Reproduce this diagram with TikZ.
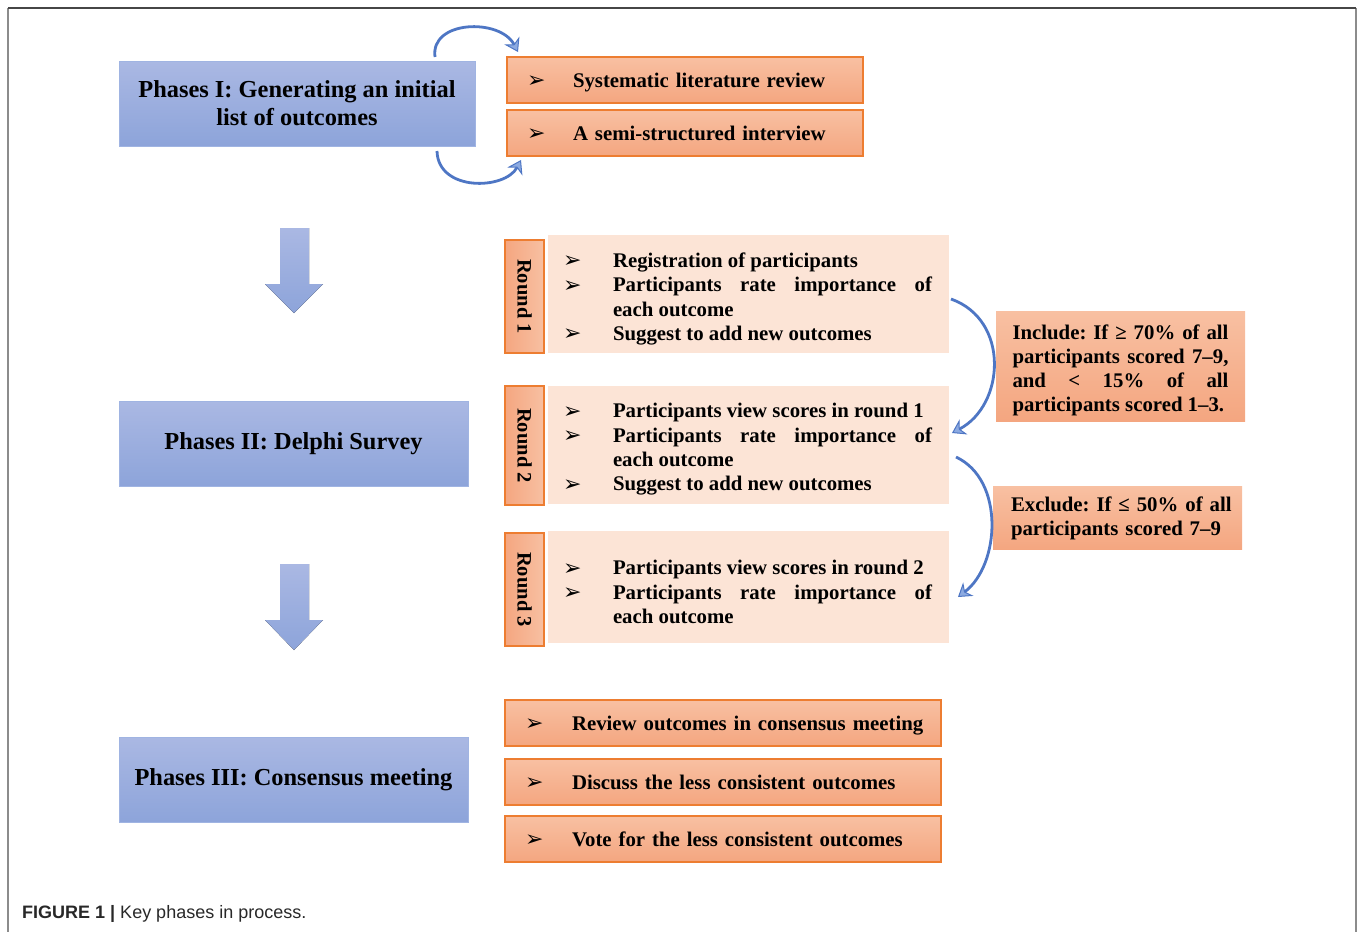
\documentclass[tikz,border=0pt]{standalone}
\usepackage{fontspec}
\setmainfont{Liberation Serif}
\newfontfamily\capfont{Liberation Sans}
\newfontfamily\symfont{DejaVu Sans}
\usetikzlibrary{arrows.meta}
\frenchspacing
\definecolor{bluetop}{RGB}{170,184,227}
\definecolor{bluebot}{RGB}{141,164,218}
\definecolor{blueedge}{RGB}{160,180,226}
\definecolor{ortop}{RGB}{248,192,162}
\definecolor{orbot}{RGB}{244,166,128}
\definecolor{oredge}{RGB}{237,125,49}
\definecolor{peach}{RGB}{252,228,214}
\definecolor{arrblue}{RGB}{78,118,196}
\definecolor{arrfill}{RGB}{140,170,225}
\definecolor{capcol}{RGB}{40,40,40}
\newcommand{\bul}{\smash{\raisebox{-0.5pt}{\symfont\fontsize{22}{22}\selectfont ➢}}}
\newcommand{\bitem}[2]{\par\noindent\hangindent=#1\hangafter=1\makebox[#1][l]{\hspace{-2pt}\bul}#2}
\newcommand{\jline}[1]{\par\noindent\hbox to \hsize{#1}\par}
\tikzset{
  phasebox/.style={draw=blueedge, line width=0.8pt, top color=bluetop, bottom color=bluebot,
    inner sep=0pt, align=center, font=\fontsize{24.4}{28}\selectfont\bfseries\frenchspacing},
  obox/.style={draw=oredge, line width=1.2pt, top color=ortop, bottom color=orbot,
    inner xsep=20pt, inner ysep=0pt, minimum height=46pt, align=left,
    text height=14pt, text depth=0pt,
    font=\fontsize{20.8}{24}\selectfont\bfseries},
  roundlbl/.style={draw=oredge, line width=1.2pt, left color=orbot, right color=ortop,
    rotate=-90, inner sep=0pt, minimum height=39pt, font=\fontsize{20.5}{24}\selectfont\bfseries},
  pbox/.style={fill=peach, text width=367pt, inner xsep=17pt, inner ysep=0pt, align=justify,
    font=\fontsize{20.8}{24.3}\selectfont\bfseries},
  critbox/.style={draw=none, top color=ortop, bottom color=orbot, inner ysep=0pt,
    font=\fontsize{20.8}{24}\selectfont\bfseries\frenchspacing},
  bigdown/.style={top color=bluetop, bottom color=bluebot, draw=none},
  curv/.style={draw=arrblue, line width=2.8pt, -{Stealth[length=13pt,width=17pt,fill=arrfill,line width=1pt]}},
}
\begin{document}
\begin{tikzpicture}[x=1pt,y=-1pt]
\useasboundingbox (0,0) rectangle (1358,932);
% frame
\draw[draw={rgb,255:red,140;green,140;blue,140}, line width=1.6pt] (8,932) -- (8,8);
\draw[draw={rgb,255:red,140;green,140;blue,140}, line width=1.6pt] (1356,8) -- (1356,932);
\draw[draw={rgb,255:red,70;green,70;blue,70}, line width=1.6pt] (8,8) -- (1356,8);

% phase boxes
\node[phasebox, minimum width=356pt, minimum height=85pt] (p1) at (297,103.5) {Phases I: Generating an initial\\list of outcomes};
\node[phasebox, minimum width=349pt, minimum height=85pt] (p2) at (293.5,443.5) {Phases II: Delphi Survey};
\node[phasebox, minimum width=349pt, minimum height=85pt] (p3) at (293.5,779.5) {Phases III: Consensus meeting};

% phase I items
\node[obox, text width=316pt] (s1) at (685,80) {\makebox[46pt][l]{\bul}Systematic literature review};
\node[obox, text width=316pt] (s2) at (685,133) {\makebox[46pt][l]{\bul}A semi-structured interview};

% curved arrows phase I
\coordinate (c1a) at (435,57);
\coordinate (c1b) at (518,52);
\coordinate (c2a) at (437,151);
\coordinate (c2b) at (521,160);
\draw[curv] (c1a) .. controls (430,20) and (500,18) .. (c1b);
\draw[curv] (c2a) .. controls (438,192) and (505,190) .. (c2b);

% down arrows
\fill[bigdown] (280,228) -- (309,228) -- (309,284) -- (323,284) -- (294,313) -- (265,284) -- (280,284) -- cycle;
\fill[bigdown] (280,564) -- (309,564) -- (309,620) -- (323,620) -- (294,650) -- (265,620) -- (280,620) -- cycle;

% rounds
\node[roundlbl, minimum width=113pt] (r1) at (524.5,296.5) {Round 1};
\node[roundlbl, minimum width=119pt] (r2) at (524.5,445.5) {Round 2};
\node[roundlbl, minimum width=113pt] (r3) at (524.5,589.5) {Round 3};

\node[pbox, minimum height=118pt] (b1) at (748.5,294) {%
\bitem{48pt}{Registration of participants}%
\bitem{48pt}{Participants rate importance of\linebreak each outcome}%
\bitem{48pt}{Suggest to add new outcomes}\par};
\node[pbox, minimum height=118pt] (b2) at (748.5,444.5) {%
\bitem{48pt}{Participants view scores in round 1}%
\bitem{48pt}{Participants rate importance of\linebreak each outcome}%
\bitem{48pt}{Suggest to add new outcomes}\par};
\node[pbox, minimum height=112pt] (b3) at (748.5,587) {%
\bitem{48pt}{Participants view scores in round 2}%
\bitem{48pt}{Participants rate importance of\linebreak each outcome}\par};

% criteria
\node[critbox, text width=216pt, inner xsep=16.5pt, minimum height=110pt, align=justify] (inc) at (1120.5,366) {%
\jline{Include: If ≥ 70\% of all}\jline{participants scored 7–9,}\jline{and < 15\% of all}\noindent\hbox{participants scored 1–3.}\par};
\node[critbox, text width=213pt, inner xsep=18pt, minimum height=63pt, align=left] (exc) at (1117.5,518) {%
\mbox{Exclude: If ≤ 50\% of all}\\\mbox{participants scored 7–9}};

% curved arrows rounds
\coordinate (d1a) at (951,299);
\coordinate (d1b) at (952,433);
\coordinate (d2a) at (956,457);
\coordinate (d2b) at (958,597);
\draw[curv] (d1a) .. controls (1010,320) and (1005,405) .. (d1b);
\draw[curv] (d2a) .. controls (1005,480) and (1000,565) .. (d2b);

% phase III items
\node[obox, text width=396pt] (t1) at (723,723) {\makebox[47pt][l]{\bul}\mbox{Review outcomes in consensus meeting}};
\node[obox, text width=396pt] (t2) at (723,782) {\makebox[47pt][l]{\bul}\mbox{Discuss the less consistent outcomes}};
\node[obox, text width=396pt] (t3) at (723,839) {\makebox[47pt][l]{\bul}\mbox{Vote for the less consistent outcomes}};

% caption
\node[anchor=west, inner sep=0pt, text=capcol, font=\capfont\fontsize{18}{20}\selectfont] (cap) at (22,914) {\textbf{FIGURE 1 |} Key phases in process.};
\end{tikzpicture}
\end{document}
